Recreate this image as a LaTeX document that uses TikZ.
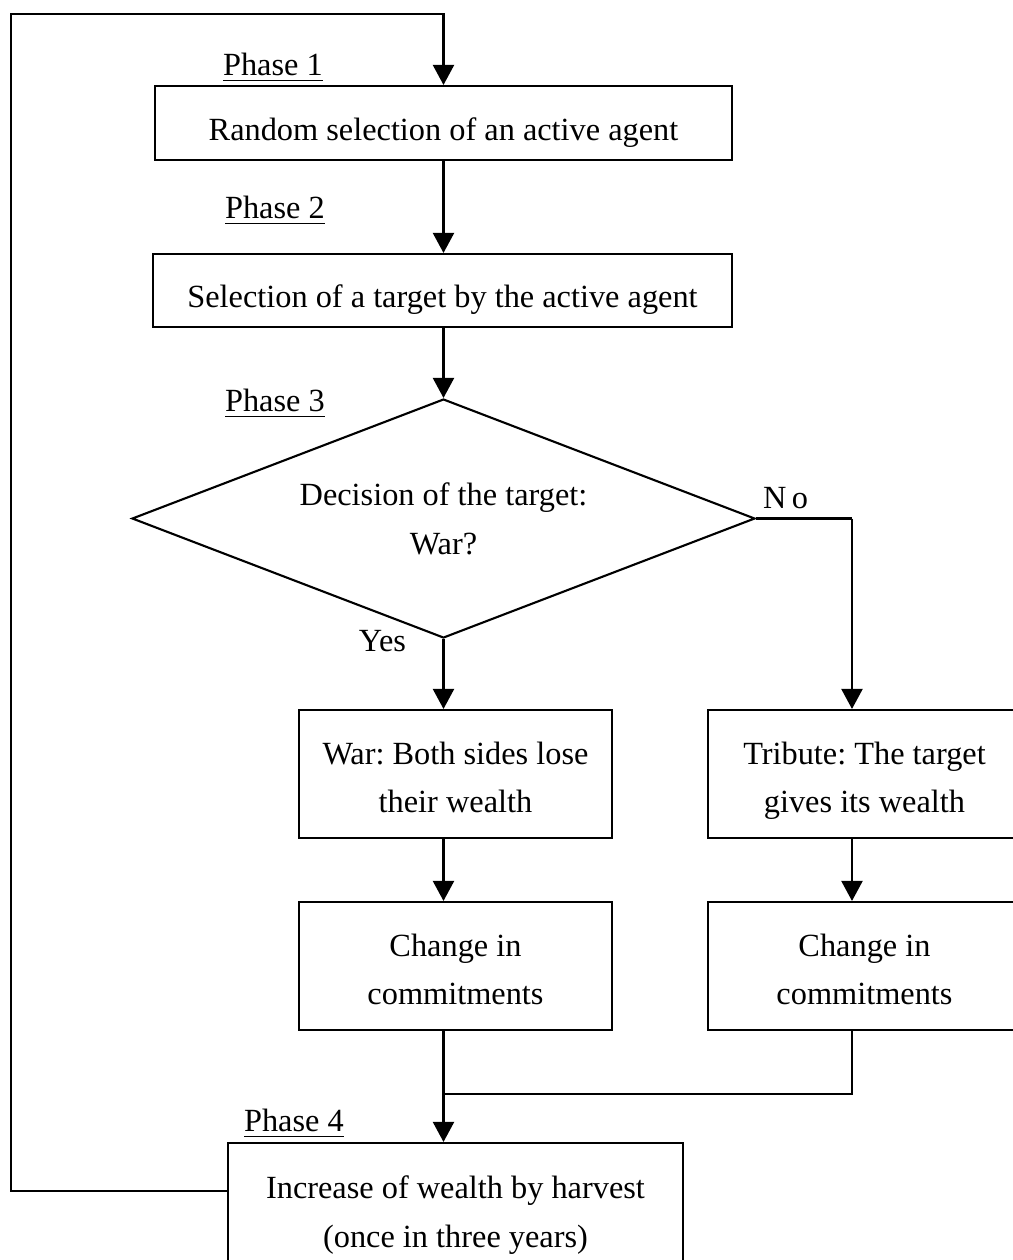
\documentclass[tikz,border=0pt]{standalone}
\usepackage{fontspec}
\setmainfont{Liberation Serif}
\usetikzlibrary{arrows.meta}
\usetikzlibrary{shapes.geometric}

\tikzset{
  stepbox/.style={draw,rectangle,inner sep=0pt,align=center,text depth=0pt,text height=9.7pt},
  twoline/.style={stepbox,text height=21.7pt},
  decide/.style={draw,diamond,aspect=2.6,inner sep=0pt,align=center,text depth=0pt,text height=20.2pt},
  phase/.style={anchor=base west,inner sep=0pt},
  flow/.style={-{Triangle[length=0.2cm,width=0.21cm]}}
}

\begin{document}
\frenchspacing
\begin{tikzpicture}[line width=0.6pt,font=\fontsize{9.2}{13.7}\selectfont]
\useasboundingbox (0,0) rectangle (10.13,-12.60);
\node[stepbox,minimum width=5.77cm,minimum height=0.74cm] (select) at (4.435,-1.23) {Random selection of an active agent};
\node[stepbox,minimum width=5.79cm,minimum height=0.73cm] (target) at (4.425,-2.905) {Selection of a target by the active agent};
\node[decide,minimum width=6.23cm,minimum height=2.39cm] (decision) at (4.435,-5.185) {Decision of the target:\\War?};
\node[twoline,minimum width=3.13cm,minimum height=1.28cm] (war) at (4.555,-7.74) {War: Both sides lose\\their wealth};
\node[twoline,minimum width=3.13cm,minimum height=1.28cm] (tribute) at (8.645,-7.74) {Tribute: The target\\gives its wealth};
\node[twoline,minimum width=3.13cm,minimum height=1.28cm] (warchange) at (4.555,-9.66) {Change in\\commitments};
\node[twoline,minimum width=3.13cm,minimum height=1.28cm] (tributechange) at (8.645,-9.66) {Change in\\commitments};
\node[twoline,minimum width=4.55cm,minimum height=1.32cm] (harvest) at (4.555,-12.09) {Increase of wealth by harvest\\(once in three years)};
\node[phase] (phase1) at (2.22,-0.75) {\underline{Phase 1}};
\node[phase] (phase2) at (2.24,-2.18) {\underline{Phase 2}};
\node[phase] (phase3) at (2.24,-4.11) {\underline{Phase 3}};
\node[phase] (phase4) at (2.43,-11.31) {\underline{Phase 4}};
\node[anchor=base west,inner sep=0pt] (no) at (7.62,-5.08) {N\,o};
\node[anchor=base east,inner sep=0pt] (yes) at (4.07,-6.51) {Yes};
\coordinate (loopcorner) at (0.11,-0.14);
\coordinate (nocorner) at (8.52,-5.185);
\coordinate (join) at (4.435,-10.94);
\draw[flow] ([yshift=0.18cm]harvest.west) -| (loopcorner) -| (select.north);
\draw[flow] (select.south) -- (select.south |- target.north);
\draw[flow] (target.south -| decision.north) -- (decision.north);
\draw[flow] (decision.south) -- (decision.south |- war.north);
\draw (decision.east) -- (nocorner);
\draw[flow] (nocorner) -- (nocorner |- tribute.north);
\draw[flow] (decision.south |- war.south) -- (decision.south |- warchange.north);
\draw[flow] (nocorner |- tribute.south) -- (nocorner |- tributechange.north);
\draw (nocorner |- tributechange.south) |- (join);
\draw[flow] (join |- warchange.south) -- (join |- harvest.north);
\end{tikzpicture}
\end{document}
